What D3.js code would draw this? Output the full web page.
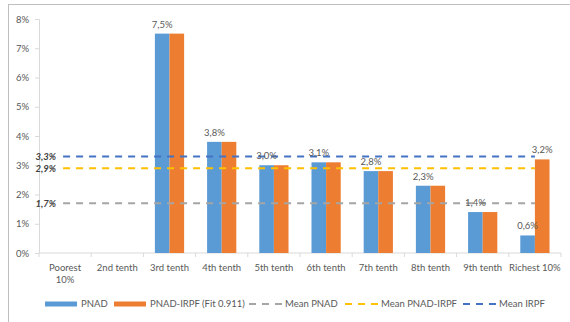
<!DOCTYPE html>
<html>
<head>
<meta charset="utf-8">
<script src="https://cdn.jsdelivr.net/npm/d3@7"></script>
<style>
  html, body { margin: 0; padding: 0; background: #fff; }
  svg { display: block; }
  text { font-family: Lato, "Open Sans", sans-serif; }
</style>
</head>
<body>
<svg id="chart" width="570" height="322"></svg>
<script>
// Share of income by tenth, two sources
const categories = ["Poorest\n10%", "2nd tenth", "3rd tenth", "4th tenth", "5th tenth",
                    "6th tenth", "7th tenth", "8th tenth", "9th tenth", "Richest 10%"];
const pnad      = [null, null, 7.5, 3.8, 3.0, 3.1, 2.8, 2.3, 1.4, 0.6];
const pnadIrpf  = [null, null, 7.5, 3.8, 3.0, 3.1, 2.8, 2.3, 1.4, 3.2];
// value labels shown on top of the bars: [category index, series, value]
const barLabels = [[2, "pnad", 7.5], [3, "pnad", 3.8], [4, "pnad", 3.0], [5, "pnad", 3.1],
                   [6, "pnad", 2.8], [7, "pnad", 2.3], [8, "pnad", 1.4], [9, "pnad", 0.6],
                   [9, "irpf", 3.2]];
const meanNames  = ["Mean PNAD", "Mean PNAD-IRPF", "Mean IRPF"];
const meanValues = [1.7, 2.9, 3.3];
const yTicks = [0, 1, 2, 3, 4, 5, 6, 7, 8];

const colors = { pnad: "#5B9BD5", irpf: "#ED7D31" };
const meanColors = ["#A5A5A5", "#FFC000", "#4472C4"];
const fmt = v => v.toFixed(1).replace(".", ",") + "%";

const svg = d3.select("#chart");
const margin = { left: 39, right: 9, top: 19, bottom: 69 };
const W = 570, H = 322;

// chart frame
svg.append("rect").attr("x", 8.5).attr("y", 4.5).attr("width", 600).attr("height", 400)
  .attr("fill", "none").attr("stroke", "#bfbfbf").attr("stroke-width", 1);

const x = d3.scaleBand().domain(categories)
  .range([margin.left, W - margin.right]).paddingInner(0.44).paddingOuter(0.22);
const x1 = d3.scaleBand().domain(["pnad", "irpf"]).range([0, x.bandwidth()]);
const y = d3.scaleLinear().domain([0, 8]).range([H - margin.bottom, margin.top]);

// y axis
const yAxis = svg.append("g").attr("transform", `translate(${margin.left},0)`)
  .call(d3.axisLeft(y).tickValues(yTicks).tickFormat(d => d + "%").tickSize(4).tickPadding(6));
yAxis.select(".domain").attr("stroke", "#d9d9d9");
yAxis.selectAll(".tick line").attr("stroke", "#d9d9d9");
yAxis.selectAll("text").attr("fill", "#595959").style("font-size", "9.5px");

// x axis with tick marks on category boundaries
const bandStep = x.step();
const xAxis = svg.append("g").attr("transform", `translate(0,${y(0)})`);
xAxis.append("line").attr("x1", margin.left).attr("x2", W - margin.right)
  .attr("stroke", "#d9d9d9");
const boundaries = d3.range(categories.length + 1)
  .map(i => margin.left + i * (W - margin.left - margin.right) / categories.length);
xAxis.selectAll(".xt").data(boundaries).join("line")
  .attr("x1", d => d).attr("x2", d => d).attr("y1", 0).attr("y2", 4)
  .attr("stroke", "#d9d9d9");
xAxis.selectAll(".xl").data(categories).join("text")
  .attr("text-anchor", "middle").attr("fill", "#595959").style("font-size", "9.5px")
  .each(function(d) {
    const t = d3.select(this);
    d.split("\n").forEach((line, i) => {
      t.append("tspan").attr("x", x(d) + x.bandwidth() / 2).attr("y", 18 + i * 12).text(line);
    });
  });

// bars
const rows = categories.map((c, i) => ({ c, pnad: pnad[i], irpf: pnadIrpf[i] }));
const groups = svg.append("g").selectAll("g").data(rows).join("g")
  .attr("transform", d => `translate(${x(d.c)},0)`);
groups.selectAll("rect")
  .data(d => ["pnad", "irpf"].filter(k => d[k] != null).map(k => ({ k, v: d[k] })))
  .join("rect")
  .attr("x", d => x1(d.k)).attr("width", x1.bandwidth())
  .attr("y", d => y(d.v)).attr("height", d => y(0) - y(d.v))
  .attr("fill", d => colors[d.k]);

// mean lines from the first to the last category centre
const xc = c => x(c) + x.bandwidth() / 2;
const meanG = svg.append("g");
meanValues.forEach((v, i) => {
  meanG.append("line")
    .attr("x1", xc(categories[0]) - 2).attr("x2", xc(categories[categories.length - 1]))
    .attr("y1", y(v)).attr("y2", y(v))
    .attr("stroke", meanColors[i]).attr("stroke-width", 2)
    .attr("stroke-dasharray", "7,6");
  meanG.append("text")
    .attr("x", xc(categories[0]) - 9).attr("y", y(v)).attr("dy", "0.35em")
    .attr("text-anchor", "end").attr("fill", "#404040")
    .style("font-size", "9.5px").style("font-weight", "bold").style("font-style", "italic")
    .text(fmt(v));
});

// value labels
svg.append("g").selectAll("text").data(barLabels).join("text")
  .attr("x", d => x(categories[d[0]]) + x1(d[1]) + x1.bandwidth() / 2)
  .attr("y", d => y(d[2]) - 6)
  .attr("text-anchor", "middle").attr("fill", "#595959").style("font-size", "9.5px")
  .text(d => fmt(d[2]));

// legend
const legendItems = [
  { name: "PNAD", type: "bar", color: colors.pnad, x: 45 },
  { name: "PNAD-IRPF (Fit 0.911)", type: "bar", color: colors.irpf, x: 114 },
  { name: meanNames[0], type: "dash", color: meanColors[0], x: 249 },
  { name: meanNames[1], type: "dash", color: meanColors[1], x: 345 },
  { name: meanNames[2], type: "dash", color: meanColors[2], x: 463 }
];
const ly = 304;
const lg = svg.append("g").selectAll("g").data(legendItems).join("g")
  .attr("transform", d => `translate(${d.x},${ly})`);
lg.filter(d => d.type === "bar").append("rect")
  .attr("x", 0).attr("y", -2.5).attr("width", 32).attr("height", 5).attr("fill", d => d.color);
lg.filter(d => d.type === "dash").append("line")
  .attr("x1", 0).attr("x2", 33).attr("y1", 0).attr("y2", 0)
  .attr("stroke", d => d.color).attr("stroke-width", 2).attr("stroke-dasharray", "7,6");
lg.append("text").attr("x", 36).attr("dy", "0.35em").attr("fill", "#595959")
  .style("font-size", "9.5px").text(d => d.name);
</script>
</body>
</html>
